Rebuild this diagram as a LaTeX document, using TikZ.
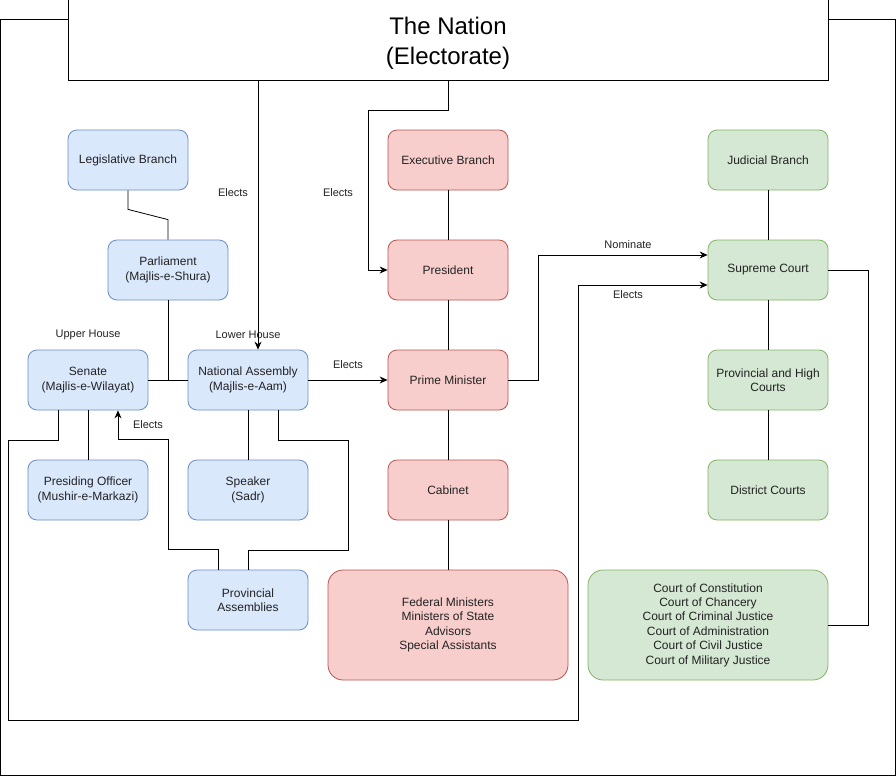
\documentclass[tikz,border=0pt]{standalone}
\usepackage{fontspec}
\setmainfont{Liberation Sans}
\usetikzlibrary{arrows.meta,calc}
\definecolor{bfill}{HTML}{DAE8FC}\definecolor{bline}{HTML}{6C8EBF}
\definecolor{rfill}{HTML}{F8CECC}\definecolor{rline}{HTML}{B85450}
\definecolor{gfill}{HTML}{D5E8D4}\definecolor{gline}{HTML}{82B366}
\definecolor{txt}{HTML}{222222}
\tikzset{
  box/.style={rounded corners=9pt,minimum width=120pt,minimum height=60pt,inner sep=2pt,align=center,text=txt,line width=0.8pt,font=\fontsize{12}{14.4}\selectfont},
  bigbox/.style={box,rounded corners=15pt,minimum width=240pt,minimum height=110pt},
  leg/.style={box,draw=bline,fill=bfill},
  exe/.style={box,draw=rline,fill=rfill},
  jud/.style={box,draw=gline,fill=gfill},
  lab/.style={font=\fontsize{11}{13}\selectfont,text=txt,inner sep=0pt},
  conn/.style={line width=0.8pt,black},
  arr/.style={conn,-{Stealth[length=8pt,width=7pt]}},
}
\begin{document}
\begin{tikzpicture}[x=1pt,y=-1pt]
\useasboundingbox (0,0) rectangle (896,776);
\draw[line width=1pt] (0.5,20) rectangle (895.5,775.5);
\node[draw,fill=white,line width=1pt,minimum width=760pt,minimum height=80pt] (nation) at (448,40) {};
\node[align=center,font=\fontsize{24}{30}\selectfont,inner sep=0pt] (nationtext) at ([yshift=-3pt]nation.center) {The Nation\\(Electorate)};
% legislative
\node[leg] (legis) at (128,160) {Legislative Branch};
\node[leg] (parl) at (168,270) {Parliament\\(Majlis-e-Shura)};
\node[leg] (senate) at (88,380) {Senate\\(Majlis-e-Wilayat)};
\node[leg] (na) at (248,380) {National Assembly\\(Majlis-e-Aam)};
\node[leg] (po) at (88,490) {Presiding Officer\\(Mushir-e-Markazi)};
\node[leg] (speaker) at (248,490) {Speaker\\(Sadr)};
\node[leg] (pa) at (248,600) {Provincial\\Assemblies};
% executive
\node[exe] (exec) at (448,160) {Executive Branch};
\node[exe] (pres) at (448,270) {President};
\node[exe] (pm) at (448,380) {Prime Minister};
\node[exe] (cab) at (448,490) {Cabinet};
\node[exe,bigbox] (fed) at (448,625) {Federal Ministers\\Ministers of State\\Advisors\\Special Assistants};
% judicial
\node[jud] (judb) at (768,160) {Judicial Branch};
\node[jud] (sc) at (768,270) {Supreme Court};
\node[jud] (phc) at (768,380) {Provincial and High\\Courts};
\node[jud] (dc) at (768,490) {District Courts};
\node[jud,bigbox] (courts) at (708,625) {Court of Constitution\\Court of Chancery\\Court of Criminal Justice\\Court of Administration\\Court of Civil Justice\\Court of Military Justice};
% labels
\node[lab] (l1) at (233,193) {Elects};
\node[lab] (l2) at (338,193) {Elects};
\node[lab] (l3) at (348,365) {Elects};
\node[lab] (l4) at (148,425) {Elects};
\node[lab] (l5) at (628,245) {Nominate};
\node[lab] (l6) at (628,295) {Elects};
\node[lab] (uh) at (88,335) {Upper House};
\node[lab] (lh) at (248,335) {Lower House};
% connectors
\draw[arr] ([xshift=10pt]na.north |- nation.south) -- ([xshift=10pt]na.north);
\draw[arr] (nation.south) -- ++(0,30) -- ++(-80,0) |- (pres.west);
\draw[conn] (legis.south) -- ++(0,19) -- ([yshift=20pt]parl.north) -- (parl.north);
\draw[conn] (parl.south) -- (parl.south |- senate.east);
\draw[conn] (senate.east) -- (na.west);
\draw[arr] (na.east) -- (pm.west);
\draw[arr] ([xshift=-30pt]senate.south) -- ++(0,30) -- ++(-50,0) -- ++(0,280) -- ++(570,0) |- ([yshift=-15pt]sc.west);
\draw[conn] (senate.south) -- (po.north);
\draw[conn] (na.south) -- (speaker.north);
\draw[conn] ([xshift=30pt]na.south) -- ++(0,30) -- ++(70,0) -- ++(0,110) -| (pa.north);
\draw[arr] ([xshift=-30pt]pa.north) -- ++(0,-20) -- ++(-50,0) -- ++(0,-110) -- ++(-50,0) -- ([xshift=30pt]senate.south);
\draw[conn] (exec.south) -- (pres.north);
\draw[conn] (pres.south) -- (pm.north);
\draw[conn] (pm.south) -- (cab.north);
\draw[conn] (cab.south) -- (fed.north);
\draw[arr] (pm.east) -- ++(30,0) |- ([yshift=15pt]sc.west);
\draw[conn] (judb.south) -- (sc.north);
\draw[conn] (sc.south) -- (phc.north);
\draw[conn] (phc.south) -- (dc.north);
\draw[conn] (sc.east) -- ++(40,0) |- (courts.east);
\end{tikzpicture}
\end{document}
